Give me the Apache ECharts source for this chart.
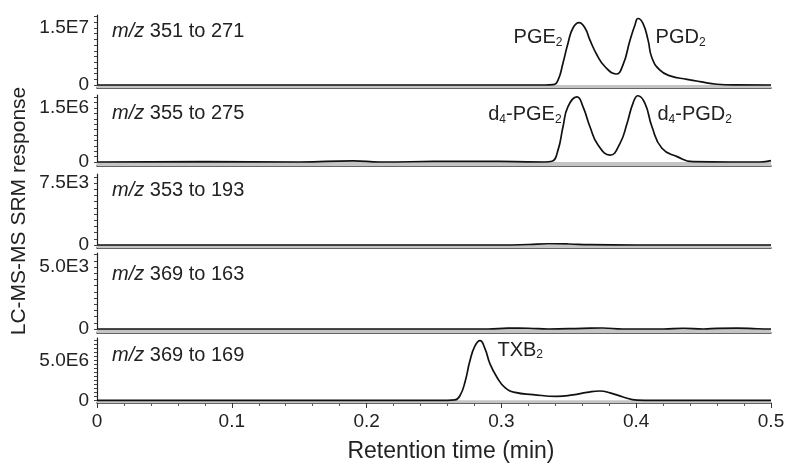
<!DOCTYPE html>
<html>
<head>
<meta charset="utf-8">
<script src="https://cdn.jsdelivr.net/npm/echarts@6/dist/echarts.min.js"></script>
<style>
  html, body { margin: 0; padding: 0; background: #fff; }
  #chart { width: 791px; height: 464px; }
</style>
</head>
<body>
<div id="chart"></div>
<script>
// transitions shown in each panel (m/z precursor to product)
const transitions = ["351 to 271", "355 to 275", "353 to 193", "369 to 163", "369 to 169"];
const topTickValues = [1.5e7, 1.5e6, 7.5e3, 5.0e3, 5.0e6];
const topTickLabels = ["1.5E7", "1.5E6", "7.5E3", "5.0E3", "5.0E6"];

// m/z 351 -> 271 (PGE2 / PGD2)
const p1Time = [0, 0.30, 0.332, 0.3383, 0.3420, 0.3457, 0.3494, 0.3531, 0.3576, 0.3620, 0.3657, 0.3709, 0.3769,
  0.3850, 0.3902, 0.3954, 0.3991, 0.4013, 0.4050, 0.4088, 0.4117, 0.4176, 0.4251, 0.4377, 0.4473, 0.4599, 0.4733, 0.5];
const p1Resp = [0, 0, 0, 0.1e6, 1.3e6, 5.8e6, 11.0e6, 15.0e6, 16.4e6, 15.0e6, 11.8e6, 7.9e6, 4.8e6,
  2.9e6, 5.3e6, 11.8e6, 15.8e6, 17.5e6, 16.2e6, 11.8e6, 7.1e6, 3.9e6, 2.4e6, 1.5e6, 0.9e6, 0.2e6, 0.03e6, 0];

// m/z 355 -> 275 (d4-PGE2 / d4-PGD2)
const p2Time = [0, 0.08, 0.15, 0.19, 0.21, 0.25, 0.28, 0.31, 0.332, 0.3375, 0.3420, 0.3457, 0.3494, 0.3561, 0.3605,
  0.3657, 0.3717, 0.3806, 0.3880, 0.3932, 0.3976, 0.4013, 0.4065, 0.4117, 0.4191, 0.4303, 0.4421, 0.47, 0.4918, 0.5];
const p2Resp = [0, 1e4, 0, 3e4, 0, 1.5e4, 2e4, 1e4, 0, 2e4, 3.3e5, 9.8e5, 1.54e6, 1.81e6, 1.54e6,
  9.8e5, 4.7e5, 1.9e5, 5.2e5, 1.07e6, 1.63e6, 1.84e6, 1.63e6, 9.8e5, 3.8e5, 1.5e5, 1e4, 0, 0, 4e4];

// m/z 353 -> 193
const p3Time = [0, 0.10, 0.20, 0.30, 0.32, 0.335, 0.35, 0.365, 0.40, 0.45, 0.5];
const p3Resp = [0, 0, 0, 0, 60, 150, 120, 40, 0, 0, 0];

// m/z 369 -> 163
const p4Time = [0, 0.20, 0.29, 0.305, 0.32, 0.335, 0.36, 0.375, 0.39, 0.42, 0.435, 0.45, 0.46, 0.475, 0.49, 0.5];
const p4Resp = [0, 0, 0, 70, 60, 0, 50, 80, 0, 0, 60, 0, 50, 70, 20, 0];

// m/z 369 -> 169 (TXB2)
const p5Time = [0, 0.20, 0.26, 0.2656, 0.2693, 0.2730, 0.2767, 0.2804, 0.2841, 0.2878, 0.2915, 0.2967, 0.3027,
  0.3101, 0.3234, 0.3412, 0.3531, 0.3635, 0.3731, 0.3806, 0.3902, 0.4006, 0.4125, 0.5];
const p5Resp = [0, 0, 0, 0.05e6, 0.6e6, 2.3e6, 5.0e6, 6.85e6, 7.5e6, 6.5e6, 4.6e6, 2.9e6, 1.6e6,
  0.99e6, 0.72e6, 0.49e6, 0.68e6, 0.99e6, 1.17e6, 0.94e6, 0.42e6, 0.03e6, 0, 0];

// peak names: [panel, time, response, side, rich text]
const peakLabels = [
  [0, 0.3457, 1.24e7, "left", "{b|PGE}{s|2}"],
  [0, 0.4140, 1.24e7, "right", "{b|PGD}{s|2}"],
  [1, 0.3450, 1.31e6, "left", "{b|d}{s|4}{b|-PGE}{s|2}"],
  [1, 0.4154, 1.31e6, "right", "{b|d}{s|4}{b|-PGD}{s|2}"],
  [4, 0.2967, 6.25e6, "right", "{b|TXB}{s|2}"]
];

const traces = [[p1Time, p1Resp], [p2Time, p2Resp], [p3Time, p3Resp], [p4Time, p4Resp], [p5Time, p5Resp]];

// layout of the five stacked panels (pixels) and their y ranges
const panelBoxes = [
  { top: 15, height: 73, min: -7.89e5, max: 1.842e7, labelY: 33 },
  { top: 95, height: 71, min: -1.11e5, max: 1.861e6, labelY: 115 },
  { top: 174, height: 74, min: -363, max: 8591, labelY: 192 },
  { top: 253, height: 80, min: -323, max: 6129, labelY: 276 },
  { top: 338, height: 72, min: -3.4e5, max: 7.84e6, labelY: 357 }
];

const FONT = "'Liberation Sans', Arial, sans-serif";
const TEXT = "#222";
const richText = {
  b: { fontSize: 20, color: TEXT, fontFamily: FONT, verticalAlign: "middle" },
  s: { fontSize: 12, color: TEXT, fontFamily: FONT, padding: [9, 0, 0, 0], verticalAlign: "middle" }
};

const chart = echarts.init(document.getElementById("chart"));
const last = panelBoxes.length - 1;

const grid = panelBoxes.map((p) => ({ left: 97, right: 20, top: p.top, height: p.height }));

const xAxis = panelBoxes.map((p, i) => ({
  type: "value",
  gridIndex: i,
  min: 0,
  max: 0.5,
  interval: 0.1,
  splitLine: { show: false },
  axisLine: { show: true, onZero: false, lineStyle: { color: "#333", width: 1.5 } },
  axisTick: { show: i === last, length: 5, lineStyle: { color: "#333" } },
  minorTick: { show: i === last, splitNumber: 5, length: 3, lineStyle: { color: "#555" } },
  axisLabel: {
    show: i === last,
    color: TEXT,
    fontSize: 19,
    fontFamily: FONT,
    margin: 9,
    formatter: (v) => String(+v.toFixed(1))
  },
  name: i === last ? "Retention time (min)" : "",
  nameLocation: "middle",
  nameGap: 37,
  nameTextStyle: { color: TEXT, fontSize: 23, fontFamily: FONT, padding: [0, 0, 0, 34] }
}));

const yAxis = panelBoxes.map((p, i) => {
  const tickStep = topTickValues[i] / 10;
  const ticks = [];
  for (let v = 0; v <= p.max; v += tickStep) ticks.push(v);
  return {
    type: "value",
    gridIndex: i,
    min: p.min,
    max: p.max,
    splitLine: { show: false },
    axisLine: { show: true, onZero: false, lineStyle: { color: "#222", width: 1.2 } },
    axisTick: { show: true, length: 3, customValues: ticks, lineStyle: { color: "#444" } },
    axisLabel: {
      color: TEXT,
      fontSize: 19,
      fontFamily: FONT,
      margin: 8,
      padding: [0, 0, 14, 0],
      customValues: [0, topTickValues[i]],
      formatter: (v) => (v === 0 ? "0" : topTickLabels[i])
    }
  };
});

const series = traces.map(([times, resp], i) => ({
  type: "line",
  xAxisIndex: i,
  yAxisIndex: i,
  data: times.map((t, k) => [t, resp[k]]),
  showSymbol: false,
  smooth: 0.5,
  lineStyle: { color: "#111", width: 1.7 },
  silent: true,
  markArea: {
    silent: true,
    itemStyle: { color: "#c4c4c4" },
    data: [[{ yAxis: panelBoxes[i].min }, { yAxis: 0 }]]
  },
  markPoint: {
    symbol: "circle",
    symbolSize: 1,
    itemStyle: { color: "rgba(0,0,0,0)" },
    data: peakLabels
      .filter((pk) => pk[0] === i)
      .map((pk) => ({
        coord: [pk[1], pk[2]],
        label: { show: true, position: pk[3], distance: 0, formatter: pk[4], rich: richText }
      }))
  }
}));

const graphic = panelBoxes.map((p, i) => ({
  type: "text",
  left: 112,
  top: p.labelY - 12,
  style: {
    text: "{i|m/z}{r| " + transitions[i] + "}",
    rich: {
      i: { fontSize: 20, fontStyle: "italic", fill: TEXT, fontFamily: FONT },
      r: { fontSize: 20, fill: TEXT, fontFamily: FONT }
    }
  }
}));

graphic.push({
  type: "text",
  x: 19,
  y: 211,
  rotation: Math.PI / 2,
  style: {
    text: "LC-MS-MS SRM response",
    fill: TEXT,
    font: "21px " + FONT,
    align: "center",
    verticalAlign: "middle"
  }
});

chart.setOption({
  animation: false,
  backgroundColor: "#fff",
  grid,
  xAxis,
  yAxis,
  series,
  graphic
});
</script>
</body>
</html>
